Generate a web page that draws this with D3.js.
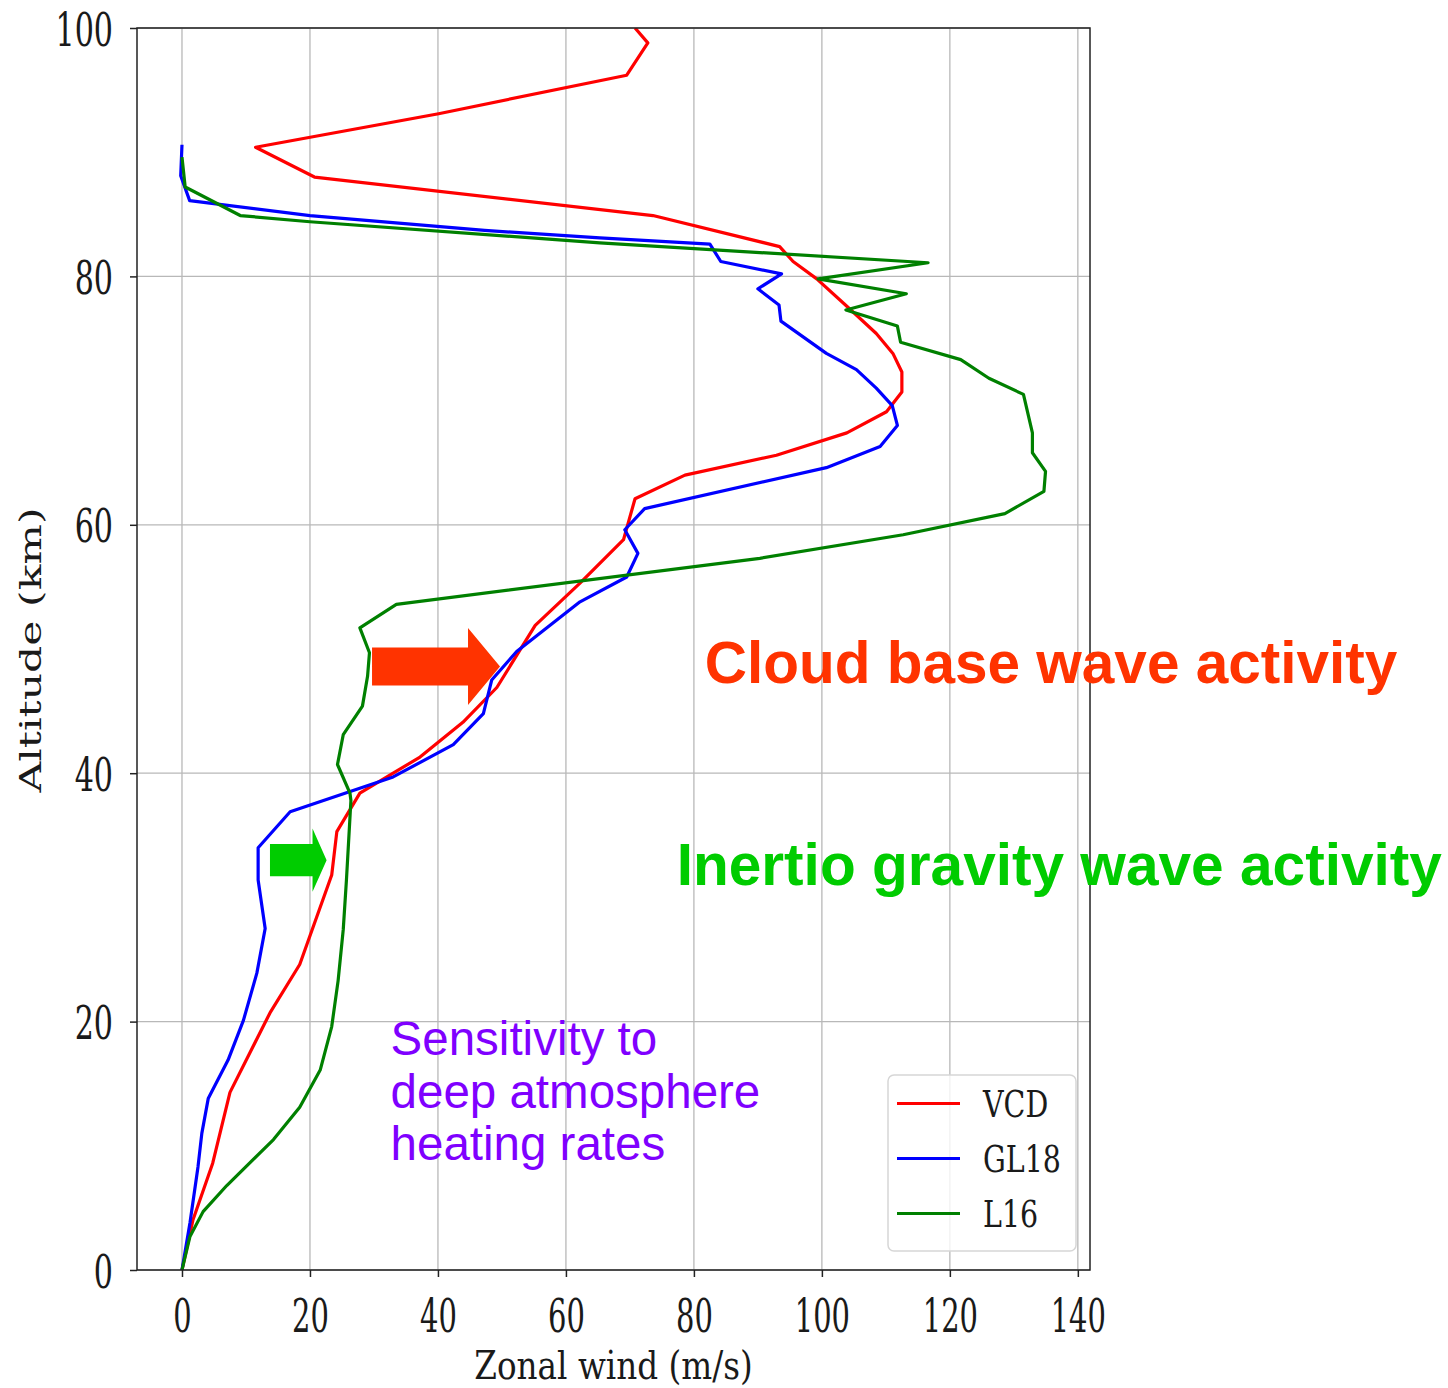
<!DOCTYPE html>
<html>
<head>
<meta charset="utf-8">
<script src="https://cdn.jsdelivr.net/npm/d3@7"></script>
<style>
  html, body { margin: 0; padding: 0; background: #ffffff; }
  svg { display: block; }
</style>
</head>
<body>
<svg id="chart" width="1448" height="1388"></svg>
<script>
// Zonal wind profiles (m/s) against altitude (km) for three heating-rate setups
const vcdAlt  = [100, 98.8, 96.2, 93.1, 90.4, 88.0, 84.9, 82.4, 81.2, 79.8, 77.6, 75.4, 73.8, 72.3, 70.7, 69.1, 67.4, 65.6, 64.0, 62.1, 58.8, 55.3, 51.9, 46.9, 44.1, 41.3, 40.0, 38.4, 35.3, 31.8, 24.6, 20.7, 14.3, 8.6, 4.0, 0];
const vcdWind = [70.8, 72.8, 69.5, 40.1, 11.5, 20.7, 73.6, 93.4, 95.5, 99.2, 103.9, 108.5, 111.1, 112.5, 112.5, 110.1, 103.9, 92.9, 78.6, 70.8, 69.0, 62.2, 55.2, 49.2, 43.9, 37.2, 33.0, 27.8, 24.2, 23.4, 18.4, 13.75, 7.5, 4.8, 1.7, 0];

const gl18Alt  = [90.6, 88.1, 86.1, 84.9, 83.7, 83.1, 82.6, 81.2, 80.2, 79.0, 77.7, 76.4, 73.8, 72.5, 71.0, 69.6, 68.0, 66.3, 64.6, 61.3, 59.6, 57.7, 55.8, 53.8, 49.8, 47.5, 44.8, 42.3, 39.7, 36.9, 34.0, 31.4, 27.5, 23.9, 20.1, 16.9, 13.8, 11.0, 8.3, 3.8, 0];
const gl18Wind = [0, -0.2, 1.2, 20, 47.3, 65.3, 82.5, 84.2, 93.7, 90.0, 93.3, 93.6, 100.7, 105.4, 108.5, 111.0, 111.8, 109.1, 100.7, 72.3, 69.2, 71.25, 69.5, 62.2, 52.3, 48.4, 47.1, 42.4, 33.0, 16.9, 11.9, 11.9, 13.0, 11.7, 9.6, 7.2, 4.1, 3.1, 2.5, 1.25, 0];

const l16Alt  = [89.6, 87.2, 84.9, 84.4, 82.7, 81.1, 79.8, 78.6, 77.3, 76.0, 74.7, 73.3, 71.8, 70.5, 67.4, 65.8, 64.3, 62.7, 60.9, 59.2, 57.3, 53.6, 51.7, 49.7, 47.8, 45.4, 43.1, 40.7, 38.4, 37.8, 31.4, 27.4, 23.3, 19.6, 16.1, 13.1, 10.5, 6.8, 4.7, 2.7, 0];
const l16Wind = [0, 0.5, 9.1, 20, 65.3, 116.6, 99.4, 113.2, 103.75, 111.8, 112.3, 121.7, 126.1, 131.5, 132.9, 132.9, 134.95, 134.7, 128.6, 112.7, 90.3, 33.5, 27.8, 29.3, 29.0, 28.2, 25.2, 24.3, 26.25, 26.4, 25.7, 25.2, 24.4, 23.4, 21.6, 18.4, 14.3, 7.0, 3.3, 1.25, 0];

const seriesNames  = ["VCD", "GL18", "L16"];
const seriesColors = ["#ff0000", "#0000ff", "#008000"];

const windTicks = [0, 20, 40, 60, 80, 100, 120, 140];
const altTicks  = [0, 20, 40, 60, 80, 100];

const series = [
  { name: seriesNames[0], color: seriesColors[0], pts: vcdAlt.map((h, i) => [vcdWind[i], h]) },
  { name: seriesNames[1], color: seriesColors[1], pts: gl18Alt.map((h, i) => [gl18Wind[i], h]) },
  { name: seriesNames[2], color: seriesColors[2], pts: l16Alt.map((h, i) => [l16Wind[i], h]) }
];

// Plot frame
const frameLeft = 137, frameTop = 28, frameRight = 1090, frameBottom = 1270;

const svg = d3.select("#chart");
svg.append("rect").attr("width", 1448).attr("height", 1388).attr("fill", "#ffffff");

const x = d3.scaleLinear().domain([-7.03, 141.9]).range([frameLeft, frameRight]);
const y = d3.scaleLinear().domain([0, 100]).range([frameBottom, frameTop]);

const serif = "'DejaVu Serif', serif";
const sans  = "'Liberation Sans', Arial, sans-serif";

// Grid
const grid = svg.append("g").attr("stroke", "#b8b8b8").attr("stroke-width", 1.3);
grid.selectAll("line.vx").data(windTicks).join("line").attr("class", "vx")
  .attr("x1", d => x(d)).attr("x2", d => x(d)).attr("y1", frameTop).attr("y2", frameBottom);
grid.selectAll("line.hy").data(altTicks).join("line").attr("class", "hy")
  .attr("y1", d => y(d)).attr("y2", d => y(d)).attr("x1", frameLeft).attr("x2", frameRight);

// Profiles
svg.append("defs").append("clipPath").attr("id", "plotClip")
  .append("rect").attr("x", frameLeft).attr("y", frameTop)
  .attr("width", frameRight - frameLeft).attr("height", frameBottom - frameTop);

const line = d3.line().x(d => x(d[0])).y(d => y(d[1]));
svg.append("g").attr("clip-path", "url(#plotClip)")
  .selectAll("path").data(series).join("path")
  .attr("d", d => line(d.pts))
  .attr("fill", "none")
  .attr("stroke", d => d.color)
  .attr("stroke-width", 3.2)
  .attr("stroke-linejoin", "round");

// Axes
const xAxis = svg.append("g").attr("transform", `translate(0,${frameBottom})`)
  .call(d3.axisBottom(x).tickValues(windTicks).tickSize(7).tickSizeOuter(0).tickFormat(d3.format("d")));
xAxis.select(".domain").remove();
xAxis.selectAll(".tick line").attr("stroke", "#222").attr("stroke-width", 1.5);
xAxis.selectAll(".tick text")
  .attr("y", null).attr("dy", null)
  .attr("transform", "translate(0,62) scale(1,1.58)")
  .attr("font-family", serif).attr("font-size", 29).attr("fill", "#1a1a1a")
  .attr("text-anchor", "middle");

const yAxis = svg.append("g").attr("transform", `translate(${frameLeft},0)`)
  .call(d3.axisLeft(y).tickValues(altTicks).tickSize(7).tickSizeOuter(0).tickFormat(d3.format("d")));
yAxis.select(".domain").remove();
yAxis.selectAll(".tick line").attr("stroke", "#222").attr("stroke-width", 1.5);
yAxis.selectAll(".tick text")
  .attr("x", null).attr("dy", null)
  .attr("transform", "translate(-24,17) scale(1.04,1.58)")
  .attr("font-family", serif).attr("font-size", 29).attr("fill", "#1a1a1a")
  .attr("text-anchor", "end");

// Frame
svg.append("rect")
  .attr("x", frameLeft).attr("y", frameTop)
  .attr("width", frameRight - frameLeft).attr("height", frameBottom - frameTop)
  .attr("fill", "none").attr("stroke", "#222").attr("stroke-width", 1.5);

// Axis titles
svg.append("text")
  .attr("transform", `translate(${(frameLeft + frameRight) / 2},1379) scale(1.02,1.24)`)
  .attr("text-anchor", "middle")
  .attr("font-family", serif).attr("font-size", 32).attr("fill", "#1a1a1a")
  .text("Zonal wind (m/s)");

svg.append("text")
  .attr("transform", "translate(41,650) rotate(-90) scale(1.42,1)")
  .attr("text-anchor", "middle")
  .attr("font-family", serif).attr("font-size", 30).attr("fill", "#1a1a1a")
  .text("Altitude (km)");

// Legend
const lg = svg.append("g");
lg.append("rect")
  .attr("x", 888).attr("y", 1075).attr("width", 188).attr("height", 176)
  .attr("rx", 6).attr("fill", "#ffffff").attr("fill-opacity", 0.8)
  .attr("stroke", "#d6d6d6").attr("stroke-width", 1.5);
const legendRow = lg.selectAll("g.row").data(series).join("g").attr("class", "row")
  .attr("transform", (d, i) => `translate(0,${1103.5 + i * 55})`);
legendRow.append("line")
  .attr("x1", 897).attr("x2", 960).attr("y1", 0).attr("y2", 0)
  .attr("stroke", d => d.color).attr("stroke-width", 3.2);
legendRow.append("text")
  .attr("transform", "translate(983,13) scale(1,1.3)")
  .attr("font-family", serif).attr("font-size", 28.5).attr("fill", "#1a1a1a")
  .text(d => d.name);

// Annotations: arrows drawn in data units
function arrow(g, x0, x1, xHead, yc, shaftHalf, headHalf, color) {
  const pts = [
    [x0, yc + shaftHalf], [xHead, yc + shaftHalf], [xHead, yc + headHalf],
    [x1, yc], [xHead, yc - headHalf], [xHead, yc - shaftHalf], [x0, yc - shaftHalf]
  ];
  g.append("path")
    .attr("d", d3.line().x(p => x(p[0])).y(p => y(p[1]))(pts) + "Z")
    .attr("fill", color);
}
const notes = svg.append("g");
arrow(notes, 29.7, 49.7, 44.7, 48.6, 1.53, 3.1, "#ff3300");
arrow(notes, 13.75, 22.6, 20.4, 33.0, 1.29, 2.55, "#00cc00");

notes.append("text")
  .attr("x", x(81.7)).attr("y", y(47.3))
  .attr("font-family", sans).attr("font-weight", "bold").attr("font-size", 58.5)
  .attr("fill", "#ff3300")
  .text("Cloud base wave activity");

notes.append("text")
  .attr("x", x(77.3)).attr("y", y(31.0))
  .attr("font-family", sans).attr("font-weight", "bold").attr("font-size", 58.6)
  .attr("fill", "#00cc00")
  .text("Inertio gravity wave activity");

const purpleLines = ["Sensitivity to", "deep atmosphere", "heating rates"];
const purpleAlt = [17.3, 13.05, 8.85];
notes.selectAll("text.sens").data(purpleLines).join("text")
  .attr("class", "sens")
  .attr("x", x(32.6)).attr("y", (d, i) => y(purpleAlt[i]))
  .attr("font-family", sans).attr("font-size", 47.5)
  .attr("fill", "#7f00ff")
  .text(d => d);
</script>
</body>
</html>
